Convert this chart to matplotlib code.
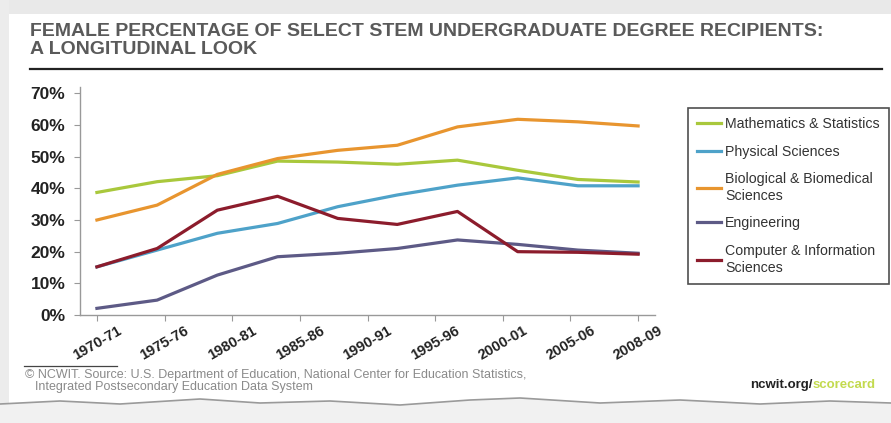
import matplotlib
matplotlib.use('Agg')
import matplotlib.pyplot as plt
from matplotlib.ticker import FuncFormatter

plt.rcParams['font.family'] = ['Liberation Sans', 'DejaVu Sans']

# tick labels along the x axis
tick_labels = ['1970-71', '1975-76', '1980-81', '1985-86', '1990-91',
               '1995-96', '2000-01', '2005-06', '2008-09']
# positions of the ten reported points on that axis
point_pos = [0, 0.89, 1.78, 2.67, 3.56, 4.44, 5.33, 6.22, 7.11, 8.0]

math_stats = [38.7, 42.1, 44.0, 48.6, 48.3, 47.6, 48.9, 45.7, 42.8, 42.0]
physical = [15.2, 20.5, 25.8, 28.9, 34.2, 37.9, 41.0, 43.3, 40.8, 40.8]
bio = [30.0, 34.7, 44.4, 49.4, 52.0, 53.6, 59.4, 61.8, 61.0, 59.7]
engineering = [2.1, 4.7, 12.6, 18.4, 19.5, 21.0, 23.7, 22.3, 20.5, 19.5]
computer = [15.2, 21.0, 33.1, 37.5, 30.5, 28.6, 32.7, 20.0, 19.8, 19.2]

series = [
    ('Mathematics & Statistics', math_stats, '#a9c83c'),
    ('Physical Sciences', physical, '#4ea2c9'),
    ('Biological & Biomedical\nSciences', bio, '#e8952f'),
    ('Engineering', engineering, '#5d5a86'),
    ('Computer & Information\nSciences', computer, '#8c1c2c'),
]

W, H, dpi = 891, 423, 100
fig = plt.figure(figsize=(W / dpi, H / dpi), dpi=dpi)
fig.patch.set_facecolor('white')

# paper sheet background: gray strip on top/left, torn edge at the bottom
bg = fig.add_axes([0, 0, 1, 1], zorder=-5)
bg.set_xlim(0, W)
bg.set_ylim(H, 0)
bg.axis('off')
bg.fill_between([0, W], 0, 14, color='#e9e9e9', lw=0)
bg.fill_between([0, 9], 0, H, color='#ececec', lw=0)
edge_x = [0, 60, 120, 200, 260, 330, 400, 470, 520, 600, 680, 760, 830, 891]
edge_y = [404, 401, 404, 399, 403, 401, 405, 400, 398, 403, 400, 404, 401, 403]
bg.fill_between(edge_x, edge_y, H, color='#f1f1f1', lw=0)
bg.plot(edge_x, edge_y, color='#9a9a9a', lw=1.2)
bg.plot([30, 882], [69, 69], color='#222222', lw=1.6)
bg.plot([24, 117], [366, 366], color='#444444', lw=0.9)

fig.text(30 / W, 1 - 31 / H, 'FEMALE PERCENTAGE OF SELECT STEM UNDERGRADUATE DEGREE RECIPIENTS:',
         fontsize=14, fontweight='bold', color='#5a5a5a', va='center', ha='left')
fig.text(30 / W, 1 - 50 / H, 'A LONGITUDINAL LOOK',
         fontsize=14, fontweight='bold', color='#5a5a5a', va='center', ha='left')

ax = fig.add_axes([80 / W, 1 - 315 / H, 575 / W, 228 / H])
for label, vals, col in series:
    ax.plot(point_pos, [v / 100 for v in vals], color=col, lw=2.3,
            label=label, solid_joinstyle='round')

ax.set_xlim(-0.25, 8.25)
ax.set_ylim(0, 0.72)
ax.set_yticks([0, 0.1, 0.2, 0.3, 0.4, 0.5, 0.6, 0.7])
ax.yaxis.set_major_formatter(FuncFormatter(lambda v, _: f'{v * 100:.0f}%'))
ax.set_xticks(range(len(tick_labels)))
ax.set_xticklabels(tick_labels, rotation=30, ha='center',
                   fontsize=10.5, fontweight='bold', color='#222222')
for t in ax.get_yticklabels():
    t.set_fontsize(12.5)
    t.set_fontweight('bold')
    t.set_color('#222222')
ax.tick_params(axis='y', length=4.5, color='#999999', pad=6)
ax.tick_params(axis='x', length=4, color='#999999', pad=2)
for s in ['top', 'right']:
    ax.spines[s].set_visible(False)
for s in ['left', 'bottom']:
    ax.spines[s].set_color('#999999')
    ax.spines[s].set_linewidth(1.0)

leg = fig.legend(loc='upper right', bbox_to_anchor=(889 / W, 1 - 108 / H),
                 frameon=True, fancybox=False, edgecolor='#222222',
                 fontsize=10.2, handlelength=1.7, handletextpad=0.3,
                 labelspacing=0.95, borderpad=0.65, borderaxespad=0,
                 labelcolor='#333333')
leg.get_frame().set_linewidth(1.2)
for t in leg.get_texts():
    t.set_linespacing(1.25)

fig.text(25 / W, 1 - 375 / H,
         '\u00a9 NCWIT. Source: U.S. Department of Education, National Center for Education Statistics,',
         fontsize=9, color='#8a8a8a', va='center', ha='left')
fig.text(35 / W, 1 - 387 / H, 'Integrated Postsecondary Education Data System',
         fontsize=9, color='#8a8a8a', va='center', ha='left')

t1 = fig.text(750 / W, 1 - 385 / H, 'ncwit.org/', fontsize=9.5, fontweight='bold',
              color='#222222', va='center', ha='left')
fig.canvas.draw()
bb = t1.get_window_extent()
fig.text(bb.x1 / W, 1 - 385 / H, 'scorecard', fontsize=9.5, fontweight='bold',
         color='#c3da4e', va='center', ha='left')

fig.savefig('out.png', dpi=dpi)
